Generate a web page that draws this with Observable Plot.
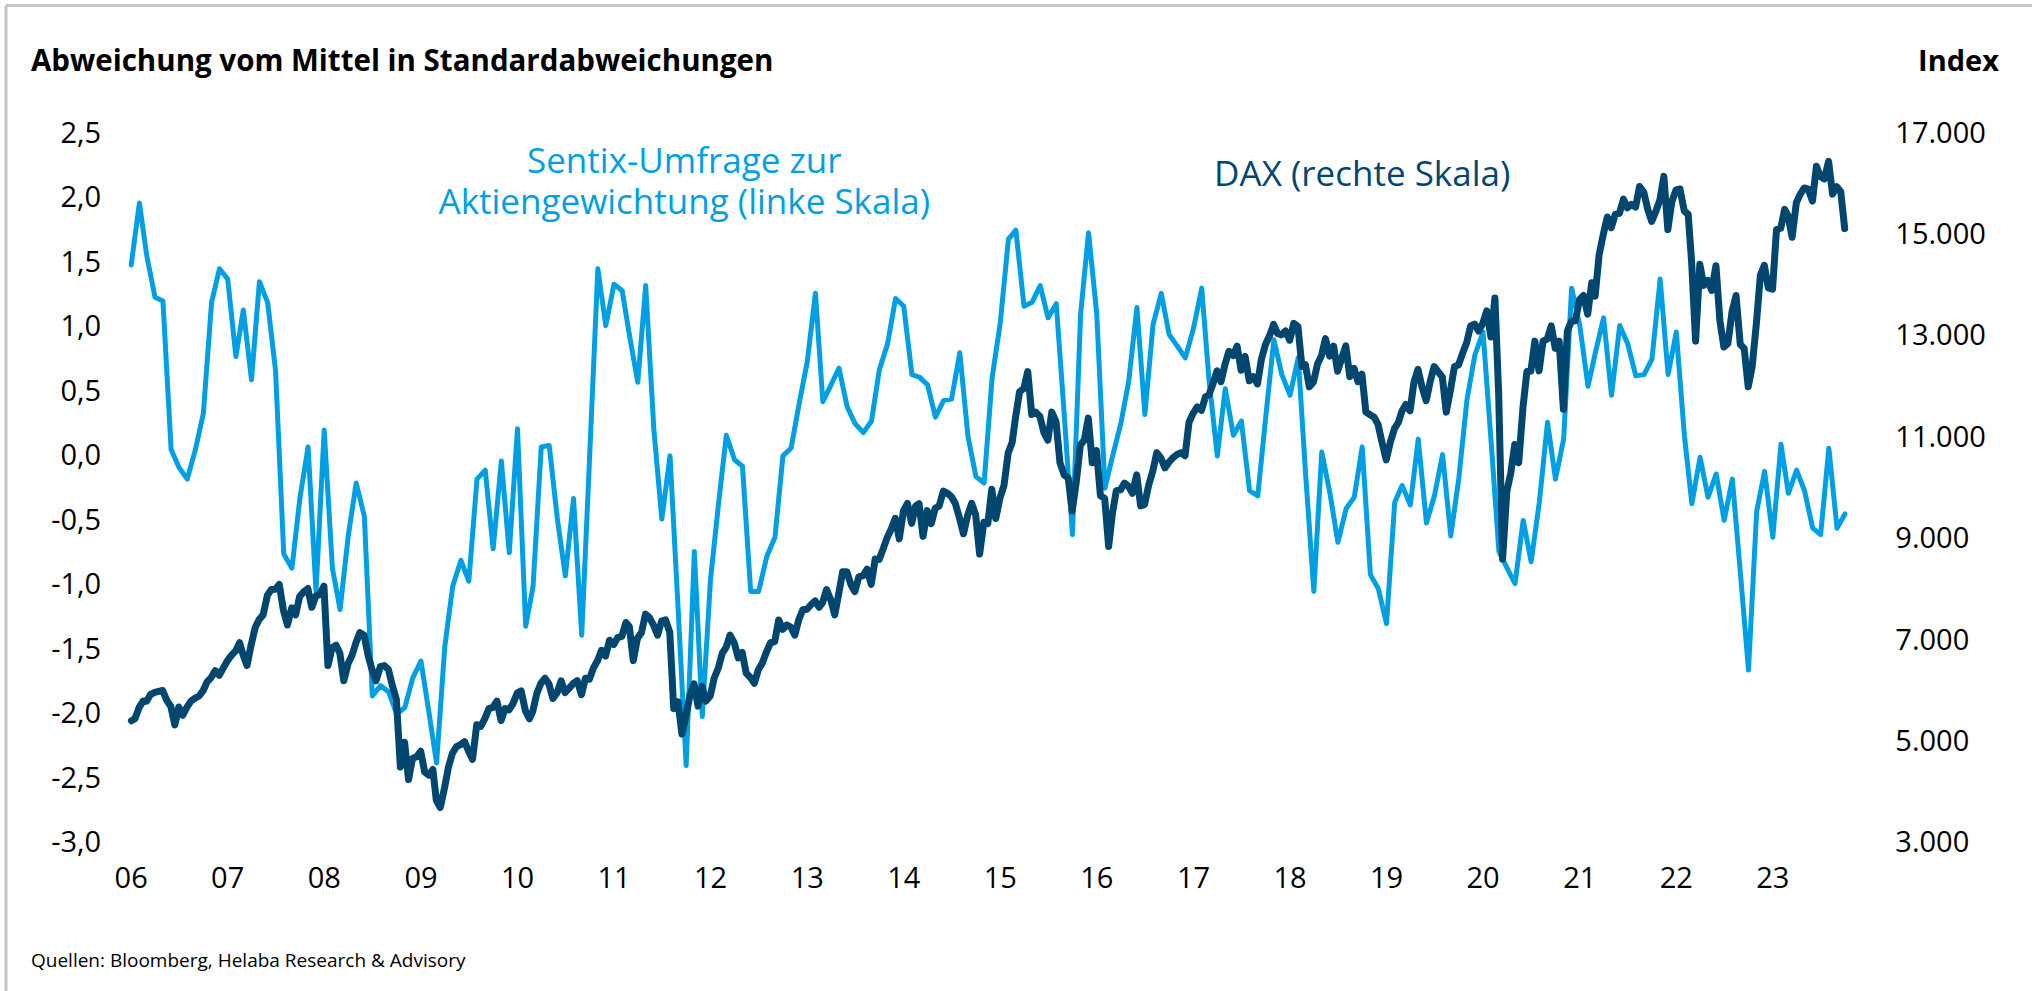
<!DOCTYPE html>
<html>
<head>
<meta charset="utf-8">
<script src="https://cdn.jsdelivr.net/npm/d3@7"></script>
<script src="https://cdn.jsdelivr.net/npm/@observablehq/plot@0.6"></script>
<style>
  html, body { margin: 0; padding: 0; background: #fff; }
  #chart { position: relative; width: 2032px; height: 991px; overflow: hidden; }
  #chart svg { display: block; }
</style>
</head>
<body>
<div id="chart"></div>
<script>
// ---- Sentix survey on equity weighting, deviation from mean in std. deviations (monthly, left scale)
const sentix2006 = [1.48, 1.96, 1.55, 1.23, 1.20, 0.05, -0.09, -0.18, 0.05, 0.33, 1.19, 1.45];
const sentix2007 = [1.37, 0.77, 1.13, 0.59, 1.35, 1.19, 0.66, -0.76, -0.87, -0.33, 0.07, -1.05];
const sentix2008 = [0.20, -0.87, -1.19, -0.62, -0.21, -0.47, -1.86, -1.78, -1.83, -2.00, -1.95, -1.72];
const sentix2009 = [-1.59, -2.00, -2.38, -1.48, -1.01, -0.81, -0.97, -0.18, -0.11, -0.72, -0.04, -0.75];
const sentix2010 = [0.21, -1.32, -1.01, 0.07, 0.08, -0.49, -0.93, -0.33, -1.39, 0.00, 1.45, 1.01];
const sentix2011 = [1.33, 1.28, 0.93, 0.57, 1.32, 0.20, -0.49, 0.00, -1.20, -2.40, -0.74, -2.02];
const sentix2012 = [-0.96, -0.36, 0.16, -0.03, -0.08, -1.05, -1.05, -0.78, -0.63, 0.00, 0.06, 0.40];
const sentix2013 = [0.73, 1.26, 0.42, 0.55, 0.68, 0.38, 0.25, 0.18, 0.27, 0.67, 0.87, 1.22];
const sentix2014 = [1.16, 0.63, 0.61, 0.55, 0.30, 0.43, 0.44, 0.80, 0.15, -0.16, -0.21, 0.60];
const sentix2015 = [1.03, 1.68, 1.75, 1.16, 1.19, 1.32, 1.07, 1.18, 0.29, -0.61, 1.10, 1.73];
const sentix2016 = [1.10, -0.25, 0.00, 0.25, 0.58, 1.15, 0.32, 1.02, 1.26, 0.94, 0.85, 0.76];
const sentix2017 = [0.99, 1.30, 0.58, 0.00, 0.52, 0.16, 0.27, -0.27, -0.31, 0.30, 0.90, 0.63];
const sentix2018 = [0.47, 0.76, -0.14, -1.05, 0.03, -0.29, -0.67, -0.41, -0.32, 0.07, -0.92, -1.03];
const sentix2019 = [-1.30, -0.36, -0.23, -0.38, 0.13, -0.52, -0.31, 0.01, -0.62, -0.18, 0.43, 0.78];
const sentix2020 = [0.96, 0.10, -0.74, -0.87, -0.99, -0.50, -0.82, -0.36, 0.26, -0.18, 0.13, 1.30];
const sentix2021 = [1.01, 0.54, 0.80, 1.07, 0.47, 1.01, 0.87, 0.62, 0.63, 0.75, 1.37, 0.63];
const sentix2022 = [0.96, 0.15, -0.37, -0.01, -0.32, -0.14, -0.50, -0.18, -0.92, -1.66, -0.43, -0.12];
const sentix2023 = [-0.63, 0.09, -0.29, -0.11, -0.27, -0.56, -0.61, 0.06, -0.56, -0.45];

// ---- DAX index level (right scale): value at start, then mid-month / month-end pairs
const daxStart2006 = 5410;
const dax2006 = [5450,5674, 5800,5796, 5930,5970, 5990,6009, 5820,5692, 5330,5683, 5520,5681, 5800,5859, 5900,6004, 6180,6268, 6400,6309, 6450,6597];
const dax2007 = [6700,6789, 6950,6716, 6500,6917, 7250,7409, 7500,7884, 8000,8007, 8100,7584, 7300,7638, 7500,7862, 7950,8019, 7650,7871, 7900,8067];
const dax2008 = [6500,6851, 6900,6748, 6200,6535, 6700,6949, 7150,7097, 6700,6418, 6200,6479, 6500,6422, 6100,5831, 4500,4988, 4250,4669, 4700,4810];
const dax2009 = [4400,4338, 4450,3844, 3700,4085, 4500,4770, 4900,4941, 5000,4809, 4650,5332, 5300,5458, 5650,5675, 5800,5415, 5650,5625, 5750,5957];
const dax2010 = [6000,5608, 5450,5598, 5950,6153, 6250,6136, 5850,5965, 6200,5966, 6050,6148, 6200,5925, 6250,6229, 6450,6601, 6800,6688, 7000,6914];
const dax2011 = [7050,7077, 7350,7272, 6600,7041, 7150,7514, 7450,7294, 7100,7376, 7400,7159, 5650,5785, 5150,5502, 5900,6141, 5700,6089, 5800,5898];
const dax2012 = [6250,6458, 6750,6856, 7100,6947, 6650,6761, 6350,6264, 6150,6416, 6550,6772, 6950,6971, 7400,7216, 7300,7260, 7100,7405, 7600,7612];
const dax2013 = [7700,7776, 7650,7742, 8000,7795, 7500,7914, 8350,8349, 8100,7959, 8250,8276, 8400,8103, 8600,8594, 8800,9033, 9200,9405, 9000,9552];
const dax2014 = [9700,9306, 9650,9692, 9050,9556, 9300,9603, 9650,9943, 9900,9833, 9700,9407, 9100,9470, 9700,9474, 8700,9327, 9300,9980, 9400,9806];
const dax2015 = [10050,10694, 10900,11402, 11900,11966, 12300,11454, 11500,11413, 11100,10945, 11500,11309, 10500,10259, 10200,9550, 10100,10850, 10950,11382, 10500,10743];
const dax2016 = [9850,9798, 8850,9495, 9950,9966, 10100,10039, 9900,10263, 9650,9680, 10050,10337, 10700,10593, 10400,10511, 10600,10665, 10700,10640, 11300,11481];
const dax2017 = [11600,11535, 11800,11834, 12050,12313, 12100,12438, 12700,12615, 12800,12325, 12600,12118, 12200,12056, 12550,12829, 13000,13230, 13050,13024, 13100,12918];
const dax2018 = [13250,13189, 12400,12436, 12000,12097, 12450,12612, 12950,12605, 12800,12306, 12550,12806, 12200,12364, 12100,12247, 11500,11447, 11400,11257, 10900,10559];
const dax2019 = [10900,11173, 11300,11516, 11650,11526, 12100,12344, 12000,11727, 12100,12399, 12300,12189, 11500,11939, 12400,12428, 12650,12867, 13200,13236, 13100,13249];
const dax2020 = [13500,12981, 13750,11890, 8600,9936, 10300,10862, 10500,11587, 12300,12311, 12900,12313, 12900,12945, 13200,12761, 12900,11556, 13100,13291, 13300,13719];
const dax2021 = [13800,13433, 14050,13786, 14600,15008, 15350,15136, 15400,15421, 15700,15531, 15600,15544, 15950,15835, 15500,15261, 15450,15689, 16150,15100, 15650,15885];
const dax2022 = [15900,15471, 15400,14461, 12900,14415, 14000,14098, 13900,14388, 13300,12784, 12850,13484, 13800,12835, 12750,12000, 12400,13253, 14200,14397, 13950,13924];
const dax2023 = [15100,15128, 15500,15365, 14950,15629, 15800,15922, 15900,15664, 16350,16148, 16100,16447, 15800,15947, 15850,15120];

// ---- axis ticks and texts
const leftTicks = [-3, -2.5, -2, -1.5, -1, -0.5, 0, 0.5, 1, 1.5, 2, 2.5];
const daxTicks = [3000, 5000, 7000, 9000, 11000, 13000, 15000, 17000];
const yearTicks = [2006,2007,2008,2009,2010,2011,2012,2013,2014,2015,2016,2017,2018,2019,2020,2021,2022,2023];
const titleLeft = "Abweichung vom Mittel in Standardabweichungen";
const titleRight = "Index";
const sourceText = "Quellen: Bloomberg, Helaba Research & Advisory";
const sentixLabel = "Sentix-Umfrage zur\nAktiengewichtung (linke Skala)";
const daxLabel = "DAX (rechte Skala)";

const colSentix = "#009FE3";
const colDax = "#00466E";

// ---- build tables
const sentixYears = [sentix2006, sentix2007, sentix2008, sentix2009, sentix2010, sentix2011, sentix2012, sentix2013, sentix2014,
  sentix2015, sentix2016, sentix2017, sentix2018, sentix2019, sentix2020, sentix2021, sentix2022, sentix2023];
const sentixData = sentixYears.flatMap((arr, k) => arr.map((v, m) => ({date: new Date(Date.UTC(2006 + k, m, 1)), value: v})));

const daxYears = [dax2006, dax2007, dax2008, dax2009, dax2010, dax2011, dax2012, dax2013, dax2014,
  dax2015, dax2016, dax2017, dax2018, dax2019, dax2020, dax2021, dax2022, dax2023];
const daxData = [{date: new Date(Date.UTC(2006, 0, 2)), value: daxStart2006}].concat(
  daxYears.flatMap((arr, k) => arr.map((v, i) => {
    const y = 2006 + k, mo = i >> 1;
    const date = i % 2 ? new Date(Date.UTC(y, mo + 1, 0)) : new Date(Date.UTC(y, mo, 15));
    return {date, value: v};
  }))
);

// DAX scale mapped onto the left scale (dual axis)
const toLeft = d3.scaleLinear().domain([3000, 17000]).range([-3, 2.5]);

const de = d3.formatLocale({decimal: ",", thousands: ".", grouping: [3], currency: ["", " €"], minus: "-"});
const fmtLeft = de.format(".1f");
const fmtDax = de.format(",.0f");

const font = '"Open Sans", "Noto Sans", sans-serif';

const chart = Plot.plot({
  width: 2032,
  height: 991,
  marginLeft: 130.7,
  marginRight: 163.2,
  marginTop: 132.8,
  marginBottom: 148.5,
  style: {fontFamily: font, fontSize: "29px", color: "#000", background: "#fff", overflow: "visible"},
  x: {type: "utc", domain: [new Date(Date.UTC(2006, 0, 1)), new Date(Date.UTC(2024, 0, 1))]},
  y: {domain: [-3, 2.5]},
  marks: [
    Plot.axisY({anchor: "left", ticks: leftTicks, tickFormat: fmtLeft, tickSize: 0, tickPadding: 30, label: null}),
    Plot.axisY({anchor: "right", ticks: daxTicks.map(d => toLeft(d)), tickFormat: v => fmtDax(Math.round(toLeft.invert(v))), tickSize: 0, tickPadding: 26, label: null}),
    Plot.axisX({ticks: yearTicks.map(y => new Date(Date.UTC(y, 0, 1))), tickFormat: d3.utcFormat("%y"), tickSize: 0, tickPadding: 24, label: null}),
    Plot.line(sentixData, {x: "date", y: "value", stroke: colSentix, strokeWidth: 5, strokeLinejoin: "round"}),
    Plot.line(daxData, {x: "date", y: d => toLeft(d.value), stroke: colDax, strokeWidth: 7, strokeLinejoin: "round"}),
    Plot.text([sentixLabel], {x: () => new Date(Date.UTC(2011, 8, 24)), y: () => 1.878, text: d => d, fill: colSentix, fontSize: 35, lineHeight: 1.17, textAnchor: "middle", lineAnchor: "bottom"}),
    Plot.text([daxLabel], {x: () => new Date(Date.UTC(2018, 9, 1)), y: () => 2.095, text: d => d, fill: colDax, fontSize: 35, textAnchor: "middle", lineAnchor: "bottom"})
  ]
});

const svg = d3.select(chart);
// frame (top and left edges)
svg.append("line").attr("x1", 6).attr("y1", 5.5).attr("x2", 2032).attr("y2", 5.5).attr("stroke", "#c6c6c6").attr("stroke-width", 3);
svg.append("line").attr("x1", 6).attr("y1", 5.5).attr("x2", 6).attr("y2", 991).attr("stroke", "#c6c6c6").attr("stroke-width", 3);
// headers and source
svg.append("text").attr("x", 31).attr("y", 71).attr("text-anchor", "start").attr("font-weight", "bold").attr("font-size", 29.5).attr("fill", "#000").text(titleLeft);
svg.append("text").attr("x", 1999).attr("y", 71).attr("text-anchor", "end").attr("font-weight", "bold").attr("font-size", 29).attr("fill", "#000").text(titleRight);
svg.append("text").attr("x", 31).attr("y", 967).attr("text-anchor", "start").attr("font-size", 19).attr("fill", "#000").text(sourceText);

document.getElementById("chart").appendChild(chart);
</script>
</body>
</html>
